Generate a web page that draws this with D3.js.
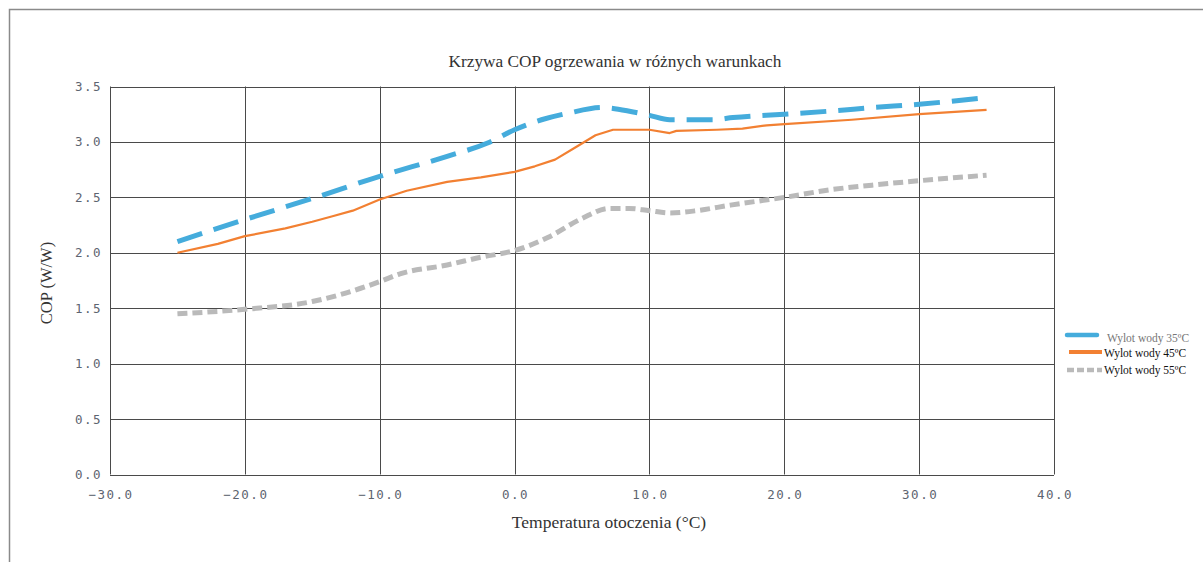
<!DOCTYPE html>
<html>
<head>
<meta charset="utf-8">
<script src="https://cdn.jsdelivr.net/npm/d3@7"></script>
<style>
  html, body { margin: 0; padding: 0; background: #fff; }
  svg { display: block; }
</style>
</head>
<body>
<svg id="chart" width="1203" height="562"></svg>
<script>
// Ambient temperature (°C) and COP for each water outlet temperature
const temp35 = [-25, -20, -15, -10, -5, -2, 0, 2, 4, 6.5, 8.8, 10, 11.5, 14.7, 16.2, 20, 23.6, 26.6, 30, 35];
const cop35  = [2.10, 2.30, 2.49, 2.69, 2.87, 2.99, 3.11, 3.20, 3.26, 3.31, 3.27, 3.24, 3.20, 3.20, 3.22, 3.25, 3.28, 3.31, 3.34, 3.40];

const temp45 = [-25, -22, -20, -17, -15, -13.5, -12, -10, -8, -5, -2.5, 0, 1.5, 3, 4.5, 6, 7.3, 10, 11.5, 12, 15, 16.9, 18.7, 20, 25, 30, 35];
const cop45  = [2.00, 2.08, 2.15, 2.22, 2.28, 2.33, 2.38, 2.48, 2.56, 2.64, 2.68, 2.73, 2.78, 2.84, 2.95, 3.06, 3.11, 3.11, 3.08, 3.10, 3.11, 3.12, 3.15, 3.16, 3.20, 3.25, 3.29];

const temp55 = [-25, -20, -15, -13, -10, -8.5, -5, -2.5, 0, 2.5, 5, 7, 8.5, 10, 11.5, 13.5, 16, 20, 23.5, 26.5, 30, 35];
const cop55  = [1.45, 1.49, 1.56, 1.62, 1.74, 1.81, 1.89, 1.96, 2.02, 2.14, 2.31, 2.40, 2.40, 2.38, 2.36, 2.38, 2.43, 2.50, 2.57, 2.61, 2.65, 2.70];

const seriesNames = ["Wylot wody 35ºC", "Wylot wody 45ºC", "Wylot wody 55ºC"];
const xTicks = [-30, -20, -10, 0, 10, 20, 30, 40];
const yTicks = [0, 0.5, 1, 1.5, 2, 2.5, 3, 3.5];

const titleText = "Krzywa COP ogrzewania w różnych warunkach";
const xTitle = "Temperatura otoczenia (°C)";
const yTitle = "COP (W/W)";

const svg = d3.select("#chart");

// outer frame (top and left edges)
svg.append("path")
  .attr("d", "M9.5,562 V9.5 H1203")
  .attr("fill", "none")
  .attr("stroke", "#8a8a8a")
  .attr("stroke-width", 1.5);

const x = d3.scaleLinear().domain([-30, 40]).range([110, 1054]);
const y = d3.scaleLinear().domain([0, 3.5]).range([474.5, 86.5]);

const grid = svg.append("g");
// horizontal grid lines
grid.selectAll("line.h").data(yTicks).join("line")
  .attr("class", "h")
  .attr("x1", x(-30)).attr("x2", x(40))
  .attr("y1", d => Math.round(y(d)) + 0.5).attr("y2", d => Math.round(y(d)) + 0.5)
  .attr("stroke", "#4a4a4a").attr("stroke-width", 1);
// vertical grid lines
grid.selectAll("line.v").data(xTicks).join("line")
  .attr("class", "v")
  .attr("x1", d => Math.round(x(d)) + 0.5).attr("x2", d => Math.round(x(d)) + 0.5)
  .attr("y1", y(3.5)).attr("y2", y(0))
  .attr("stroke", "#4a4a4a").attr("stroke-width", 1);

// tick labels
const tickFont = "'DejaVu Sans Mono', monospace";
svg.append("g").selectAll("text").data(yTicks).join("text")
  .attr("x", 102)
  .attr("y", d => y(d) + 4.5)
  .attr("text-anchor", "end")
  .attr("font-family", tickFont)
  .attr("font-size", 12.5)
  .attr("letter-spacing", 1.5)
  .attr("fill", "#5d6470")
  .text(d => d3.format(".1f")(d));

svg.append("g").selectAll("text").data(xTicks).join("text")
  .attr("x", d => x(d) + 1)
  .attr("y", 499)
  .attr("text-anchor", "middle")
  .attr("font-family", tickFont)
  .attr("font-size", 12.5)
  .attr("letter-spacing", 1.5)
  .attr("fill", "#5d6470")
  .text(d => d3.format(".1f")(d).replace("-", "−"));

// titles
const serif = "'Liberation Serif', 'Times New Roman', serif";
svg.append("text")
  .attr("x", 615).attr("y", 67)
  .attr("text-anchor", "middle")
  .attr("font-family", serif).attr("font-size", 17.3)
  .attr("fill", "#333")
  .text(titleText);

svg.append("text")
  .attr("x", 609).attr("y", 528)
  .attr("text-anchor", "middle")
  .attr("font-family", serif).attr("font-size", 17.5)
  .attr("fill", "#333")
  .text(xTitle);

svg.append("text")
  .attr("transform", "translate(52,283) rotate(-90)")
  .attr("text-anchor", "middle")
  .attr("font-family", serif).attr("font-size", 16.5)
  .attr("fill", "#333")
  .text(yTitle);

// series
const series = [
  { t: temp35, v: cop35, color: "#45acdc", width: 5, dash: "26,12", curve: d3.curveMonotoneX },
  { t: temp45, v: cop45, color: "#f28032", width: 2.2, dash: null, curve: d3.curveLinear },
  { t: temp55, v: cop55, color: "#bababa", width: 5, dash: "10,5", curve: d3.curveMonotoneX }
];

series.forEach(s => {
  const pts = s.t.map((t, i) => [t, s.v[i]]);
  const line = d3.line().x(d => x(d[0])).y(d => y(d[1])).curve(s.curve);
  svg.append("path")
    .datum(pts)
    .attr("d", line)
    .attr("fill", "none")
    .attr("stroke", s.color)
    .attr("stroke-width", s.width)
    .attr("stroke-dasharray", s.dash)
    .attr("stroke-linejoin", "round");
});

// legend
const legendRows = [
  { y: 335, ty: 342, x1: 1067, x2: 1097, tx: 1107, textColor: "#777" },
  { y: 352, ty: 357, x1: 1069, x2: 1102, tx: 1104, textColor: "#111" },
  { y: 370, ty: 374, x1: 1067, x2: 1102, tx: 1104, textColor: "#111" }
];
const legendDash = [null, null, "7,3"];
const legend = svg.append("g");
legendRows.forEach((r, i) => {
  legend.append("line")
    .attr("x1", r.x1).attr("x2", r.x2)
    .attr("y1", r.y).attr("y2", r.y)
    .attr("stroke", series[i].color)
    .attr("stroke-width", i === 1 ? 4 : 4.5)
    .attr("stroke-linecap", i === 0 ? "round" : "butt")
    .attr("stroke-dasharray", legendDash[i]);
  legend.append("text")
    .attr("x", r.tx).attr("y", r.ty)
    .attr("font-family", serif).attr("font-size", 11.5)
    .attr("fill", r.textColor)
    .text(seriesNames[i]);
});
</script>
</body>
</html>
